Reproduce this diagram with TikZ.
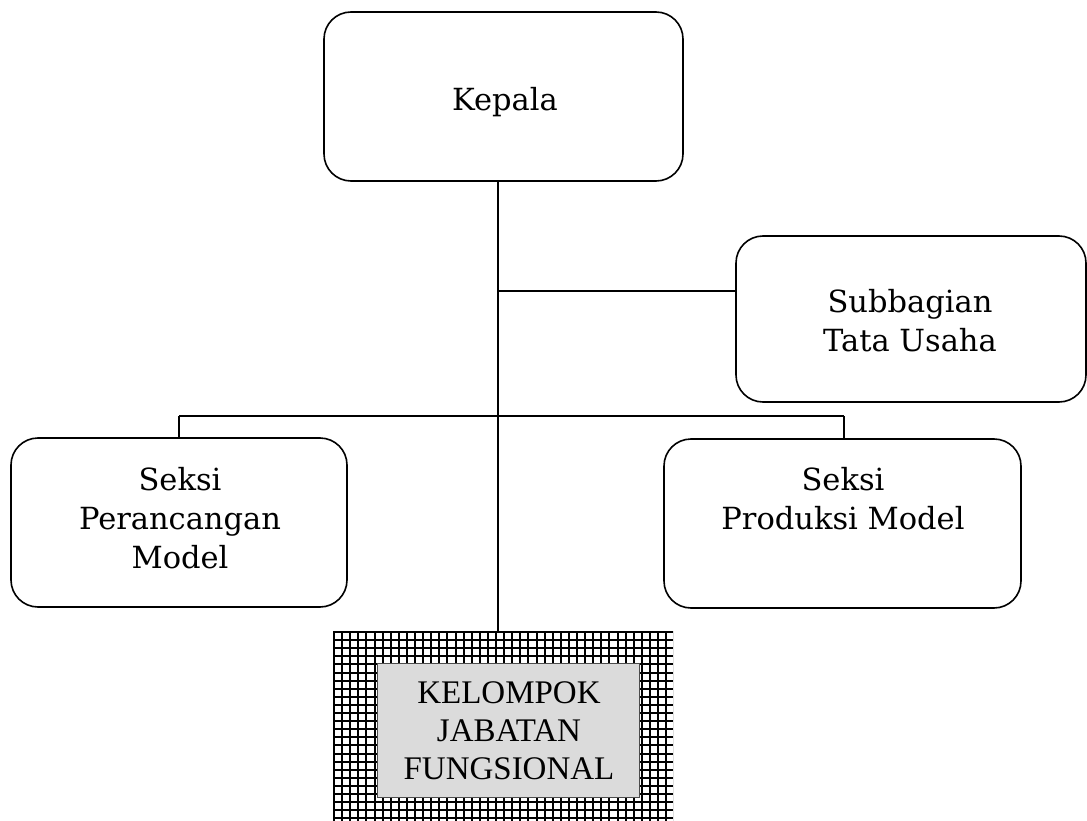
\documentclass[tikz,border=0pt]{standalone}
\usepackage{fontspec}
\setmainfont{DejaVu Serif}
\newfontfamily\timesf{Liberation Serif}
\begin{document}
\begin{tikzpicture}[x=1pt,y=-1pt,
  unit/.style={draw=black,line width=1.6pt,rounded corners=27pt,fill=white,inner sep=0pt},
  lbl/.style={align=center,font=\fontsize{30.5}{39}\selectfont,inner sep=0pt},
  conn/.style={line width=1.5pt}]
\useasboundingbox (0,0) rectangle (1087,821);
% boxes
\node[unit,minimum width=359pt,minimum height=169pt] (kepala) at (503.5,96.5) {};
\node[lbl] (kepalaT) at (505,102) {Kepala};
\node[unit,minimum width=350pt,minimum height=166pt] (tu) at (911,319) {};
\node[lbl] (tuT) at (910,321) {Subbagian\\Tata Usaha};
\node[unit,minimum width=336pt,minimum height=169pt] (sp) at (179,522.5) {};
\node[lbl] (spT) at (180,518) {Seksi\\Perancangan\\Model};
\node[unit,minimum width=357pt,minimum height=169pt] (pm) at (842.5,523.5) {};
\node[lbl] (pmT) at (843,499) {Seksi\\Produksi Model};
% functional group with grid pattern
\coordinate (gtl) at (333,631);
\coordinate (gbr) at (673,821);
\begin{scope}
  \clip (gtl) rectangle (gbr);
  \fill[white] (gtl) rectangle (gbr);
  \foreach \i in {0,...,43} {
    \draw[line width=2pt] (334+\i*8.1,631) -- (334+\i*8.1,821);
  }
  \foreach \j in {0,...,24} {
    \draw[line width=2pt] (333,632+\j*8.1) -- (673,632+\j*8.1);
  }
\end{scope}
\node[draw=black!70,line width=1pt,fill=black!14,minimum width=262pt,minimum height=134pt,inner sep=0pt] (kjf) at (508,730) {};
\node[align=center,font=\timesf\fontsize{33}{38}\selectfont,inner sep=0pt] (kjfT) at (509,731) {KELOMPOK\\JABATAN\\FUNGSIONAL};
% connectors
\coordinate (trunkTop) at (498,181);
\coordinate (jTU) at (498,291);
\coordinate (jS) at (498,416);
\coordinate (jSL) at (179,416);
\coordinate (jSR) at (844,416);
\draw[conn] (trunkTop) -- (jTU) -- (jS) -- (498,631);
\draw[conn] (jTU) -- (tu.west |- jTU);
\draw[conn] (jSL) -- (jSR);
\draw[conn] (jSL) -- (sp.north -| jSL);
\draw[conn] (jSR) -- (pm.north -| jSR);
\end{tikzpicture}
\end{document}
